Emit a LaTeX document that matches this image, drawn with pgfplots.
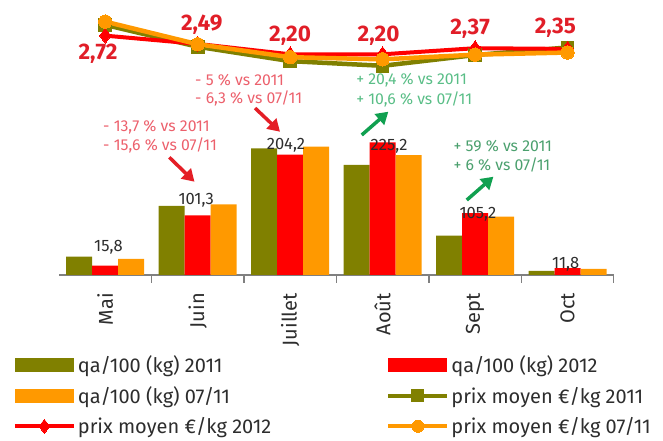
\documentclass[border=0pt]{standalone}
\usepackage{fontspec}
\setmainfont{Fira Sans}
\usepackage{pgfplots}
\pgfplotsset{compat=1.18}
\usetikzlibrary{arrows.meta}
\definecolor{cOlive}{RGB}{128,128,0}
\definecolor{cRed}{RGB}{255,0,0}
\definecolor{cOrange}{RGB}{255,153,0}
\definecolor{cLabel}{RGB}{225,30,40}
\definecolor{cAnnR}{RGB}{236,96,108}
\definecolor{cAnnGa}{RGB}{90,190,135}
\definecolor{cAnnGb}{RGB}{75,160,110}
\definecolor{cArrR}{RGB}{228,30,38}
\definecolor{cArrG}{RGB}{16,160,80}
\definecolor{cTxt}{RGB}{45,45,45}
\pgfplotsset{
  barlegend/.style={legend image code/.code={\fill[##1] (0pt,-7pt) rectangle (59pt,7pt);}},
  linelegend/.style={legend image code/.code={\draw[mark repeat=2,mark phase=2,##1] plot coordinates {(0pt,0pt) (29.5pt,0pt) (59pt,0pt)};}},
}
\begin{document}
\begin{tikzpicture}
\useasboundingbox (0pt,0pt) rectangle (663pt,441pt);
\begin{axis}[
  at={(59pt,166pt)}, anchor=south west, scale only axis,
  width=554.8pt, height=265pt,
  xmin=-0.5, xmax=5.5, ymin=0, ymax=450,
  axis x line*=bottom, axis y line=none,
  axis line style={draw=gray, line width=1.3pt},
  xtick={0,...,5}, xticklabels={Mai,Juin,Juillet,Août,Sept,Oct},
  major tick length=0pt,
  extra x ticks={0.5,1.5,2.5,3.5,4.5,5.5},
  extra x tick labels={},
  extra x tick style={major tick length=7.7pt, tick align=outside, tick style={draw=gray, line width=1.3pt}},
  xticklabel style={rotate=90, anchor=east, inner sep=0pt, font=\fontsize{20}{24}\selectfont, text=cTxt},
  xticklabel shift=18pt,
  clip=false,
  legend columns=2, legend cell align=left,
  legend style={at={(axis description cs:-0.0835,-0.296)}, anchor=north west, draw=none, fill=none, inner sep=0pt,
    font=\fontsize{20}{23}\selectfont, nodes={text=cTxt}, row sep=8.5pt,
    /tikz/every even column/.append style={column sep=113pt}},
]
\addplot[ybar, bar width=26pt, bar shift=-26pt, fill=cOlive, draw=none, barlegend]
  coordinates {(0,31.1) (1,117.5) (2,215) (3,187) (4,67) (5,6.8)};
\addplot[ybar, bar width=26pt, bar shift=0pt, fill=cRed, draw=none, barlegend]
  coordinates {(0,15.8) (1,101.3) (2,204.2) (3,225.2) (4,105.2) (5,11.8)};
\addplot[ybar, bar width=26pt, bar shift=26pt, fill=cOrange, draw=none, barlegend]
  coordinates {(0,27.3) (1,120) (2,218) (3,203.6) (4,99.2) (5,10.4)};
\addlegendimage{cOlive, line width=4pt, mark=square*, mark size=6pt, mark options={line width=0pt}, linelegend}
\addlegendimage{cRed, line width=4pt, mark=diamond*, mark size=7pt, mark options={line width=0pt}, linelegend}
\addlegendimage{cOrange, line width=4pt, mark=*, mark size=6pt, mark options={line width=0pt}, linelegend}
\legend{qa/100 (kg) 2011, qa/100 (kg) 2012, qa/100 (kg) 07/11, prix moyen €/kg 2011, prix moyen €/kg 2012, prix moyen €/kg 07/11}
% value labels
\begin{scope}[every node/.style={font=\fontsize{16.5}{19}\selectfont, text=cTxt, inner sep=0pt}]
\node at (axis cs:0.034,47) {15,8};
\node at (axis cs:0.984,126.7) {101,3};
\node at (axis cs:1.955,221) {204,2};
\node at (axis cs:3.07,218.4) {225,2};
\node at (axis cs:4.03,103) {105,2};
\node at (axis cs:4.98,18) {11,8};
\end{scope}
% annotations
\begin{scope}[every node/.style={font=\fontsize{15.8}{19}\selectfont, inner sep=0pt, anchor=west}]
\node[text=cAnnR] at (axis cs:-0.024,251.3) {- 13,7 \% vs 2011};
\node[text=cAnnR] at (axis cs:-0.024,220.7) {- 15,6 \% vs 07/11};
\node[text=cAnnR] at (axis cs:0.971,330.6) {- 5 \% vs 2011};
\node[text=cAnnR] at (axis cs:0.971,299.3) {- 6,3 \% vs 07/11};
\node[text=cAnnGa] at (axis cs:2.713,330.6) {+ 20,4 \% vs 2011};
\node[text=cAnnGa] at (axis cs:2.713,298.3) {+ 10,6 \% vs 07/11};
\node[text=cAnnGb] at (axis cs:3.765,219) {+ 59 \% vs 2011};
\node[text=cAnnGb] at (axis cs:3.765,186.2) {+ 6 \% vs 07/11};
\end{scope}
\draw[cArrR, line width=3.5pt, -{Triangle[length=12pt,width=14pt]}] (axis cs:0.693,199.8) -- (axis cs:0.965,158.4);
\draw[cArrR, line width=3.5pt, -{Triangle[length=12pt,width=14pt]}] (axis cs:1.62,283.5) -- (axis cs:1.89,243.3);
\draw[cArrG, line width=3.5pt, -{Triangle[length=12pt,width=14pt]}] (axis cs:2.774,237.7) -- (axis cs:3.062,277.3);
\draw[cArrG, line width=3.5pt, -{Triangle[length=12pt,width=14pt]}] (axis cs:3.91,127.3) -- (axis cs:4.198,166.9);
\end{axis}
\begin{axis}[
  at={(59pt,166pt)}, anchor=south west, scale only axis,
  width=554.8pt, height=265pt,
  xmin=-0.5, xmax=5.5, ymin=-3.947, ymax=3.4345,
  hide axis, clip=false,
]
\addplot[cOlive, line width=4.5pt, line join=round, mark=square*, mark size=6.3pt, mark options={line width=0pt}]
  coordinates {(0,3.02) (1,2.41) (2,2.01) (3,1.88) (4,2.18) (5,2.39)};
\addplot[cRed, line width=4pt, line join=round, mark=diamond*, mark size=7.5pt, mark options={line width=0pt}]
  coordinates {(0,2.72) (1,2.49) (2,2.20) (3,2.20) (4,2.37) (5,2.35)};
\addplot[cOrange, line width=4.5pt, line join=round, mark=*, mark size=6.7pt, mark options={line width=0pt}]
  coordinates {(0,3.11) (1,2.48) (2,2.12) (3,2.06) (4,2.19) (5,2.25)};
\begin{scope}[every node/.style={font=\bfseries\fontsize{22.5}{26}\selectfont, text=cLabel, inner sep=0pt}]
\node at (axis cs:-0.078,2.212) {2,72};
\node at (axis cs:1.044,3.029) {2,49};
\node at (axis cs:1.999,2.714) {2,20};
\node at (axis cs:2.956,2.722) {2,20};
\node at (axis cs:3.946,2.923) {2,37};
\node at (axis cs:4.868,2.937) {2,35};
\end{scope}
\end{axis}
\end{tikzpicture}
\end{document}
